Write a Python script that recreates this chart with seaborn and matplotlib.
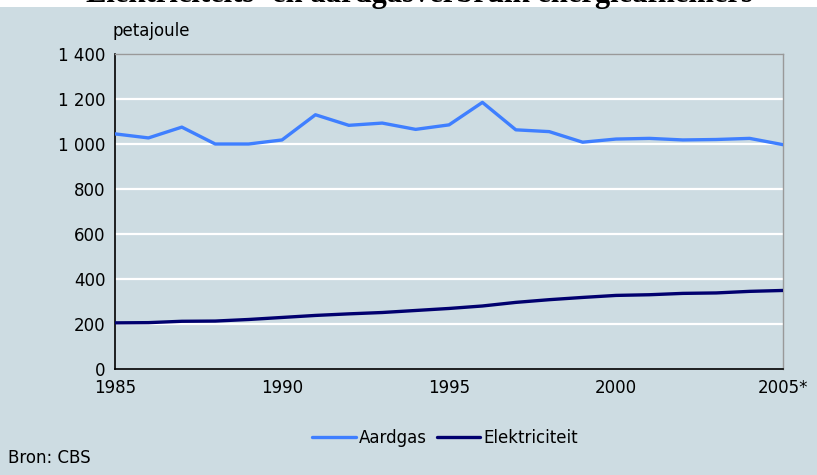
import numpy as np
import pandas as pd
import matplotlib.pyplot as plt
import seaborn as sns
from matplotlib.patches import Rectangle
from matplotlib.ticker import FuncFormatter

jaren = list(range(1985, 2006))
aardgas = [1045, 1027, 1075, 1000, 1000, 1018, 1130, 1083, 1093, 1065, 1085,
           1185, 1063, 1055, 1008, 1022, 1025, 1018, 1020, 1025, 997]
elektriciteit = [205, 206, 212, 213, 220, 229, 238, 245, 251, 260, 269,
                 280, 296, 308, 318, 327, 330, 336, 338, 345, 349]
x_labels = ['1985', '1990', '1995', '2000', '2005*']

bg = '#cddce2'
kleuren = {'Aardgas': '#3f7fff', 'Elektriciteit': '#00006e'}

df = pd.DataFrame({'jaar': jaren, 'Aardgas': aardgas, 'Elektriciteit': elektriciteit})
df_long = df.melt(id_vars='jaar', var_name='reeks', value_name='pj')

sns.set_style('white')
plt.rcParams['font.family'] = ['DejaVu Sans']
plt.rcParams['text.color'] = 'black'
plt.rcParams['xtick.color'] = 'black'
plt.rcParams['ytick.color'] = 'black'

fig = plt.figure(figsize=(8.17, 4.75), dpi=100, facecolor=bg)
ax = fig.add_axes([0.1408, 0.2232, 0.8176, 0.6631])
ax.set_facecolor(bg)

# witte strook bovenaan met (afgesneden) titel, zoals in het origineel
fig.patches.append(Rectangle((0, 1 - 7 / 475), 1, 7 / 475, transform=fig.transFigure,
                             facecolor='white', edgecolor='none', zorder=0))
fig.text(0.513, 1 - 2 / 475, 'Elektriciteits- en aardgasverbruik energieafnemers',
         ha='center', va='baseline', fontsize=22, fontweight='bold',
         family='Liberation Serif')

for y in range(200, 1401, 200):
    ax.axhline(y, color='white', lw=1.6, zorder=1)

sns.lineplot(data=df_long, x='jaar', y='pj', hue='reeks', palette=kleuren,
             linewidth=2.4, ax=ax, legend=False, zorder=3)

ax.set_xlim(1985, 2005)
ax.set_ylim(0, 1400)
ax.set_xticks(range(1985, 2006, 5))
ax.set_xticklabels(x_labels)
ax.set_xticks(jaren, minor=True)
ax.set_yticks(range(0, 1401, 200))
ax.yaxis.set_major_formatter(FuncFormatter(lambda v, p: f'{int(v):,}'.replace(',', ' ')))
ax.tick_params(axis='both', which='major', direction='out', length=5, width=1,
               color='black', labelsize=12, pad=2)
ax.tick_params(axis='x', which='minor', direction='out', length=5, width=1, color='black')
ax.set_xlabel('')
ax.set_ylabel('')

for s in ['top', 'right']:
    ax.spines[s].set_color('#999999')
    ax.spines[s].set_linewidth(1)
for s in ['left', 'bottom']:
    ax.spines[s].set_color('black')
    ax.spines[s].set_linewidth(1.2)

fig.text(113 / 817, 1 - 31 / 475, 'petajoule', ha='left', va='center', fontsize=12)
fig.text(8 / 817, 1 - 458 / 475, 'Bron: CBS', ha='left', va='center', fontsize=12)

handles = [plt.Line2D([], [], color=kleuren[k], lw=2.4) for k in kleuren]
fig.legend(handles, list(kleuren), loc='center', bbox_to_anchor=(0.545, 1 - 438 / 475),
           ncol=2, frameon=False, fontsize=12, handlelength=2.6, handletextpad=0.2,
           columnspacing=0.6)

fig.savefig('out.png', dpi=100, facecolor=bg)
